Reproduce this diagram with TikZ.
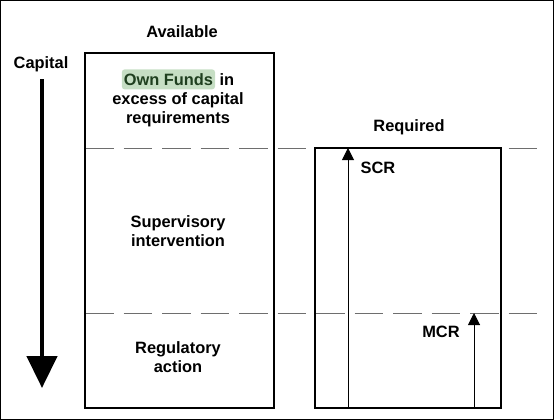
\documentclass[tikz,border=0pt]{standalone}
\usepackage{fontspec}
\setmainfont{Liberation Sans}
\usepackage{tikz}
\usetikzlibrary{arrows.meta,positioning}
\definecolor{fundsgreen}{HTML}{C6DEC4}
\definecolor{fundstext}{HTML}{1F3F1F}
\definecolor{levelgray}{HTML}{6E6E6E}
\newcommand{\hlfunds}[1]{\tikz[baseline=(hl.base)]\node[fill=fundsgreen, text=fundstext, rounded corners=3pt, inner xsep=2pt, inner ysep=4pt] (hl) {#1};}

\begin{document}
\begin{tikzpicture}[x=1pt, y=-1pt,
  lbl/.style={font=\fontsize{16.4}{19}\selectfont\bfseries, align=center, inner sep=0pt},
  panel/.style={draw, line width=1.2pt, inner sep=0pt},
  level/.style={levelgray, line width=1pt, dash pattern=on 28.5pt off 10pt},
  reqarrow/.style={-{Triangle[width=12pt,length=12pt]}, line width=1pt},
  caparrow/.style={-{Triangle[width=30pt,length=32pt]}, line width=4.5pt}
]
\useasboundingbox (0,0) rectangle (554,420);
\draw[line width=1pt] (0.5,0.5) rectangle (553.5,419.5);
% capital levels
\draw[level] (85,148) -- (538,148);
\draw[level] (85,313) -- (538,313);
% available and required
\node[panel, minimum width=189pt, minimum height=355pt] (avail) at (179.5,230.5) {};
\node[panel, minimum width=186pt, minimum height=260pt] (req) at (408,278) {};
\node[lbl] (available) at (182,32) {Available};
\node[lbl] (required) at (409,127) {Required};
% capital direction
\node[lbl] (capital) at (41,64) {Capital};
\coordinate (captop) at (42,79);
\coordinate (capbot) at (42,388);
\draw[caparrow] (captop) -- (capbot);
% zones
\node[lbl] (excess) at (178,98) {\hlfunds{Own Funds} in\\excess of capital\\requirements};
\node[lbl] (superv) at (178,231) {Supervisory\\intervention};
\node[lbl] (regul) at (178,357) {Regulatory\\action};
% SCR and MCR
\coordinate (scrbase) at (348,408);
\coordinate (scrtop) at (348,148);
\coordinate (mcrbase) at (474,408);
\coordinate (mcrtop) at (474,313);
\draw[reqarrow] (scrbase) -- (scrtop);
\draw[reqarrow] (mcrbase) -- (mcrtop);
\node[lbl] (scr) at (378,168) {SCR};
\node[lbl] (mcr) at (441,332) {MCR};
\end{tikzpicture}
\end{document}
